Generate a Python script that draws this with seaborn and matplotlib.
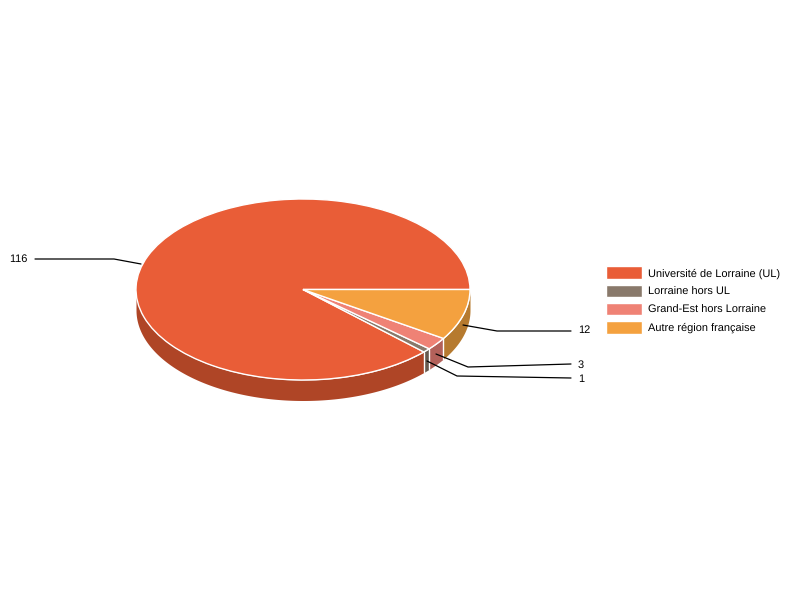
import numpy as np
import matplotlib
matplotlib.use("Agg")
import matplotlib.pyplot as plt
import seaborn as sns

categories = ["Université de Lorraine (UL)", "Lorraine hors UL", "Grand-Est hors Lorraine", "Autre région française"]
values = [116, 1, 3, 12]
top_colors = ["#E95D37", "#89796B", "#EF8275", "#F4A13F"]
side_colors = ["#AF4526", "#665A4F", "#B3615A", "#B67A2F"]
value_labels = ["116", "1", "3", "12"]

sns.set_theme(style="white")
plt.rcParams["font.family"] = ["Liberation Sans", "DejaVu Sans"]
plt.rcParams["text.hinting"] = "no_hinting"
plt.rcParams["text.hinting_factor"] = 1
plt.rcParams["text.kerning_factor"] = 0

W, H = 800, 600
CX, CY, RX, RY, DEPTH = 303.0, 289.5, 167.0, 90.5, 20.5

fig = plt.figure(figsize=(8, 6), dpi=100, facecolor="white")
ax = fig.add_axes([0, 0, 1, 1])
palette = sns.color_palette(top_colors)
side_palette = sns.color_palette(side_colors)

# slice boundaries come from the values, counter-clockwise from east
fractions = np.array(values, dtype=float) / sum(values)
edges = np.concatenate([[0.0], np.cumsum(fractions) * 360.0])
d = DEPTH / RY

# extruded side wall (only the lower half of the ellipse is visible)
for i in range(len(values)):
    a0, a1 = max(edges[i], 180.0), edges[i + 1]
    if a1 <= a0:
        continue
    t = np.radians(np.linspace(a0, a1, 200))
    ax.fill_between(np.cos(t), np.sin(t) - d, np.sin(t), color=side_palette[i], lw=0, zorder=1)
    if i > 0:
        ax.plot([np.cos(t[0])] * 2, [np.sin(t[0]), np.sin(t[0]) - d], color="white", lw=1.0, zorder=2)

wedges, _ = ax.pie(values, colors=palette, startangle=0, counterclock=True, radius=1.0,
                   wedgeprops=dict(edgecolor="white", linewidth=1.0, zorder=3))
ax.set_aspect("auto")
ax.set_xlim(-CX / RX, (W - CX) / RX)
ax.set_ylim((CY - H) / RY, CY / RY)
ax.axis("off")

# overlay in pixel space for leader lines and value labels
ov = fig.add_axes([0, 0, 1, 1], facecolor="none")
ov.set_xlim(0, W)
ov.set_ylim(H, 0)
ov.axis("off")

leaders = {
    "116": ([141, 114, 35], [264, 259, 259], 28, 259.5, "right"),
    "1": ([427, 457, 571], [361, 376, 378], 578, 379, "left"),
    "3": ([436, 468, 571], [354, 367, 364], 578, 365, "left"),
    "12": ([463, 497, 571], [325, 331, 331], 578, 330.5, "left"),
}
for lab in value_labels:
    xs, ys, tx, ty, ha = leaders[lab]
    ov.plot(xs, ys, color="black", lw=0.9, solid_joinstyle="miter", zorder=5)
    ov.text(tx, ty, lab, ha=ha, va="center", fontsize=7.9, color="black")

ov.legend(wedges, categories, loc="upper left", bbox_to_anchor=(601 / W, 1 - 261 / H),
          bbox_transform=fig.transFigure, frameon=False, fontsize=7.9, labelcolor="black",
          handlelength=3.2, handleheight=1.4, handletextpad=0.55, labelspacing=0.5,
          borderpad=0.5, borderaxespad=0)

fig.savefig("out.png", dpi=100, facecolor="white")
